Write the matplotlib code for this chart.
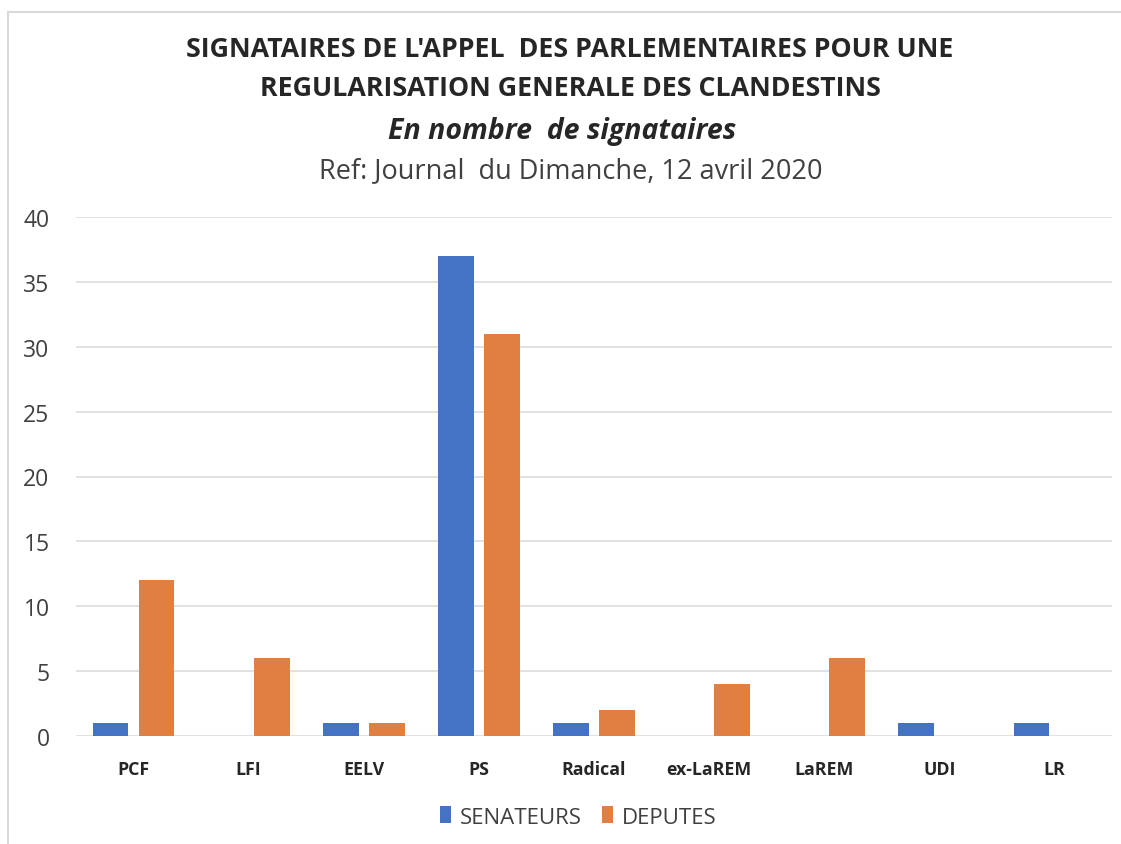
import matplotlib
matplotlib.use("Agg")
import matplotlib.pyplot as plt
import numpy as np
from matplotlib.patches import Rectangle

categories = ["PCF", "LFI", "EELV", "PS", "Radical", "ex-LaREM", "LaREM", "UDI", "LR"]
senateurs = [1, 0, 1, 37, 1, 0, 0, 1, 1]
deputes = [12, 6, 1, 31, 2, 4, 6, 0, 0]
yticks = [0, 5, 10, 15, 20, 25, 30, 35, 40]

FONT = ["Open Sans", "DejaVu Sans"]
plt.rcParams["font.family"] = FONT

W, H = 1121, 845
fig = plt.figure(figsize=(W / 100, H / 100), dpi=100)
fig.patch.set_facecolor("white")

# outer frame of the chart area
fig.add_artist(Rectangle((8 / W, -0.1), 1.2, 1 - 13 / H + 0.1, transform=fig.transFigure,
                         fill=False, edgecolor="#D9D9D9", linewidth=1.5))

ax = fig.add_axes([76 / W, 1 - 737 / H, (1112 - 76) / W, (737 - 218) / H])
x = np.arange(len(categories))
bw = 0.31
ax.bar(x - 0.2, senateurs, bw, color="#4472C4", label="SENATEURS", zorder=3)
ax.bar(x + 0.2, deputes, bw, color="#E07F3F", label="DEPUTES", zorder=3)

ax.set_xlim(-0.5, len(categories) - 0.5)
ax.set_ylim(0, 40)
ax.set_yticks(yticks)
ax.set_yticklabels([str(v) for v in yticks], fontsize=16.5, color="#404040")
ax.set_xticks(x)
ax.set_xticklabels(categories, fontsize=12.8, fontweight="bold", color="#262626")
ax.tick_params(axis="both", length=0)
ax.tick_params(axis="x", pad=17)
ax.tick_params(axis="y", pad=19)
ax.grid(axis="y", color="#DCDCDC", linewidth=1.2, zorder=0)
for s in ax.spines.values():
    s.set_visible(False)

fig.text(570 / W, 1 - 50 / H, "SIGNATAIRES DE L'APPEL  DES PARLEMENTAIRES POUR UNE",
         ha="center", va="center", fontsize=19.3, fontweight="bold", color="#262626")
fig.text(570 / W, 1 - 89 / H, "REGULARISATION GENERALE DES CLANDESTINS",
         ha="center", va="center", fontsize=19.3, fontweight="bold", color="#262626")
fig.text(562 / W, 1 - 131 / H, "En nombre  de signataires",
         ha="center", va="center", fontsize=20.5, fontweight="bold", style="italic", color="#262626")
fig.text(571 / W, 1 - 171 / H, "Ref: Journal  du Dimanche, 12 avril 2020",
         ha="center", va="center", fontsize=19.5, color="#404040")

leg = fig.legend(loc="center", bbox_to_anchor=(578 / W, 1 - 818 / H), ncol=2, frameon=False,
                 fontsize=16, handlelength=0.5, handleheight=0.8, handletextpad=0.4,
                 columnspacing=0.9)
for t in leg.get_texts():
    t.set_color("#404040")

fig.savefig("out.png", dpi=100, facecolor="white")
